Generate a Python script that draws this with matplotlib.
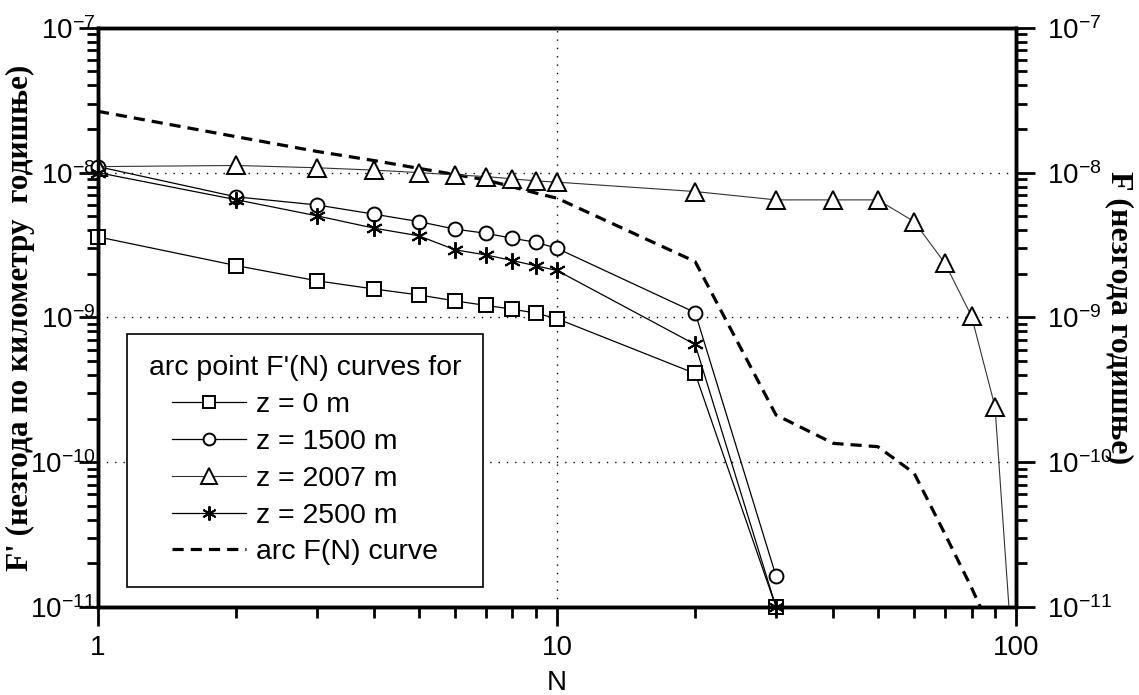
import numpy as np
import matplotlib
matplotlib.use("Agg")
from matplotlib import pyplot as plt
from matplotlib.ticker import LogLocator, FixedLocator, FixedFormatter, NullFormatter

plt.rcParams['font.family'] = ['Liberation Sans', 'DejaVu Sans']
plt.rcParams['mathtext.fontset'] = 'custom'
plt.rcParams['mathtext.rm'] = 'Liberation Sans'
plt.rcParams['mathtext.it'] = 'Liberation Sans'
plt.rcParams['mathtext.sf'] = 'Liberation Sans'

# ---- data ----
N_short = [1, 2, 3, 4, 5, 6, 7, 8, 9, 10, 20, 30]
F_z0    = [3.6e-9, 2.28e-9, 1.79e-9, 1.57e-9, 1.43e-9, 1.30e-9, 1.21e-9, 1.14e-9, 1.07e-9, 0.98e-9, 4.1e-10, 1.0e-11]
F_z1500 = [1.1e-8, 6.8e-9, 5.98e-9, 5.16e-9, 4.59e-9, 4.07e-9, 3.81e-9, 3.52e-9, 3.30e-9, 3.0e-9, 1.08e-9, 1.64e-11]
F_z2500 = [1.0e-8, 6.5e-9, 5.03e-9, 4.13e-9, 3.66e-9, 2.93e-9, 2.70e-9, 2.47e-9, 2.27e-9, 2.11e-9, 6.5e-10, 1.0e-11]

N_long  = [1, 2, 3, 4, 5, 6, 7, 8, 9, 10, 20, 30, 40, 50, 60, 70, 80, 90, 100]
F_z2007 = [1.1e-8, 1.12e-8, 1.08e-8, 1.04e-8, 1.0e-8, 9.64e-9, 9.39e-9, 9.05e-9, 8.77e-9, 8.59e-9,
           7.4e-9, 6.48e-9, 6.48e-9, 6.48e-9, 4.59e-9, 2.37e-9, 1.02e-9, 2.42e-10, 2e-12]

N_arc = [1, 2, 3, 4, 5, 6, 7, 8, 9, 10, 20, 30, 40, 50, 60, 70, 80, 90]
F_arc = [2.65e-8, 1.77e-8, 1.40e-8, 1.21e-8, 1.07e-8, 9.7e-9, 8.9e-9, 7.97e-9, 7.22e-9, 6.66e-9,
         2.43e-9, 2.12e-10, 1.35e-10, 1.28e-10, 8.4e-11, 3.2e-11, 1.36e-11, 6e-12]

y_ticks = [1e-11, 1e-10, 1e-9, 1e-8, 1e-7]
y_labels = ['$10^{-11}$', '$10^{-10}$', '$10^{-9}$', '$10^{-8}$', '$10^{-7}$']
x_ticks = [1, 10, 100]
x_labels = ['1', '10', '100']

# ======================================================================

fig = plt.figure(figsize=(11.39, 6.95), dpi=100)
ax = fig.add_axes([0.086, 0.1266, 0.806, 0.8334])

mk = dict(mfc='white', mec='black', mew=1.4, clip_on=False, zorder=3)
ax.plot(N_short, F_z0, '-', color='black', lw=0.9, marker='s', ms=10, label='z = 0 m', **mk)
ax.plot(N_short, F_z1500, '-', color='black', lw=0.9, marker='o', ms=10, label='z = 1500 m', **mk)
ax.plot(N_long, F_z2007, '-', color='#333333', lw=0.8, marker='^', ms=13,
        mfc='white', mec='black', mew=1.4, zorder=3, label='z = 2007 m')
ax.plot(N_short, F_z2500, '-', color='black', lw=0.9, marker=(6, 2, 0), ms=12,
        mec='black', mew=1.4, clip_on=False, zorder=3, label='z = 2500 m')
ax.plot(N_arc, F_arc, color='black', lw=2.3, linestyle=(0, (3.5, 2.2)), label='arc F(N) curve', zorder=2)

ax.set_xscale('log')
ax.set_yscale('log')
ax.set_xlim(1, 100)
ax.set_ylim(1e-11, 1e-7)

ax.xaxis.set_major_locator(FixedLocator(x_ticks))
ax.xaxis.set_major_formatter(FixedFormatter(x_labels))
ax.xaxis.set_minor_locator(LogLocator(base=10, subs=np.arange(2, 10)))
ax.xaxis.set_minor_formatter(NullFormatter())
ax.yaxis.set_major_locator(FixedLocator(y_ticks))
ax.yaxis.set_major_formatter(FixedFormatter(y_labels))
ax.yaxis.set_minor_locator(LogLocator(base=10, subs=np.arange(2, 10)))
ax.yaxis.set_minor_formatter(NullFormatter())

ax.grid(True, which='major', linestyle=(0, (1, 5)), color='black', lw=1.0)
ax.tick_params(which='major', direction='out', length=14, width=2, labelsize=20)
ax.tick_params(which='minor', direction='out', length=8, width=2)
ax.tick_params(axis='x', which='major', pad=6)
ax.tick_params(axis='y', which='major', pad=-12)
ax.tick_params(top=False, right=False)
for s in ax.spines.values():
    s.set_linewidth(2.5)

ax.set_xlabel('N', fontsize=20)
ax.xaxis.set_label_coords(0.5, -0.108)
ax.set_ylabel("F' (незгода по километру  годишње)", fontsize=22.5, fontweight='bold',
              family=['Liberation Serif', 'DejaVu Serif'])
ax.yaxis.set_label_coords(-0.084, 0.5)
ax.yaxis.label.set_va('center')

# desna osa
ax2 = ax.twinx()
ax2.set_yscale('log')
ax2.set_ylim(1e-11, 1e-7)
ax2.yaxis.set_major_locator(FixedLocator(y_ticks))
ax2.yaxis.set_major_formatter(FixedFormatter(y_labels))
ax2.yaxis.set_minor_locator(LogLocator(base=10, subs=np.arange(2, 10)))
ax2.yaxis.set_minor_formatter(NullFormatter())
ax2.tick_params(which='major', direction='out', length=14, width=2, labelsize=20, pad=8)
ax2.tick_params(which='minor', direction='out', length=8, width=2)
for s in ax2.spines.values():
    s.set_linewidth(2.5)
ax2.set_ylabel('F (незгода годишње)', fontsize=23, fontweight='bold', rotation=270,
               family=['Liberation Serif', 'DejaVu Serif'])
ax2.yaxis.set_label_coords(1.113, 0.5)
ax2.yaxis.label.set_va('center')
ax2.yaxis.label.set_ha('center')

leg = ax.legend(loc='lower left', bbox_to_anchor=(0.032, 0.035), title="arc point F'(N) curves for",
                fontsize=20.5, title_fontsize=20.5, frameon=True, fancybox=False, framealpha=1,
                edgecolor='black', handlelength=2.6, handletextpad=0.35, borderpad=0.75,
                labelspacing=0.38, borderaxespad=0, markerscale=0.85)
leg.get_frame().set_linewidth(1.2)
leg.set_zorder(5)

fig.savefig('out.png', dpi=100)
